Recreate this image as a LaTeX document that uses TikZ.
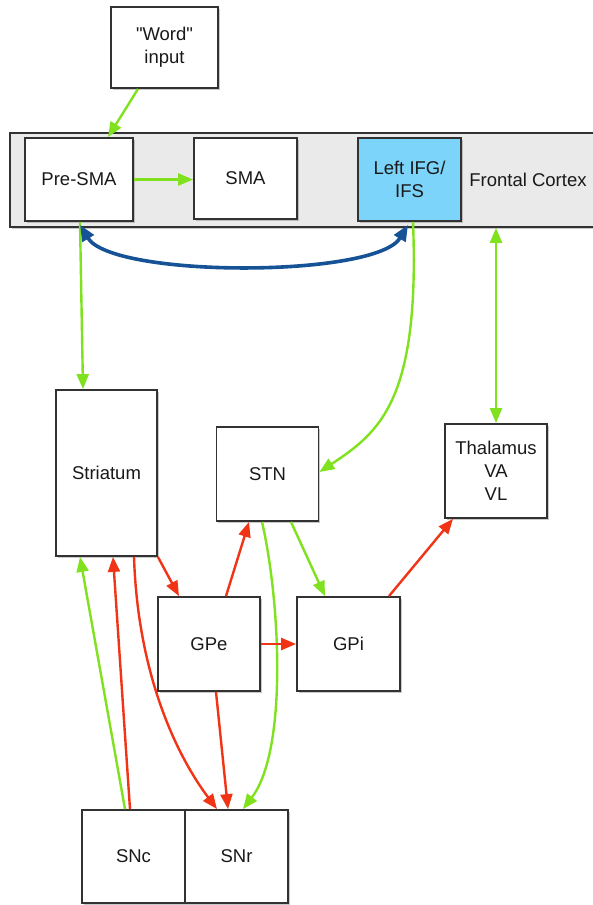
\documentclass[tikz,border=0pt]{standalone}
\usepackage{fontspec}
\setmainfont{Liberation Sans}[Ligatures=TeXOff]
\usetikzlibrary{arrows.meta,shadows,calc}
\definecolor{lime}{RGB}{128,226,30}
\definecolor{redar}{RGB}{242,52,22}
\definecolor{bluear}{RGB}{22,82,150}
\definecolor{ifgfill}{RGB}{124,212,250}
\definecolor{barfill}{RGB}{234,234,234}
\definecolor{boxline}{RGB}{50,50,50}
\definecolor{txt}{RGB}{25,25,25}
\begin{document}
\begin{tikzpicture}[x=1pt,y=-1pt,
  font=\fontsize{18.5}{23}\selectfont,
  box/.style={draw=boxline, line width=1.8pt, fill=white, inner sep=0pt, align=center, text=txt,
    drop shadow={shadow xshift=1.5pt, shadow yshift=-1.8pt, opacity=0.35, fill=black!60}},
  bw/.style={minimum width=102pt, minimum height=94pt},
  lbl/.style={inner sep=0pt, text=txt},
  garr/.style={draw=lime, line width=2.4pt, -{Triangle[length=15pt,width=12pt]}},
  gdbl/.style={draw=lime, line width=2.4pt, {Triangle[length=15pt,width=12pt]}-{Triangle[length=15pt,width=12pt]}},
  rarr/.style={draw=redar, line width=2.4pt, -{Triangle[length=15pt,width=12pt]}},
  bdbl/.style={draw=bluear, line width=3.6pt, {Triangle[length=16pt,width=13pt]}-{Triangle[length=16pt,width=13pt]}}
]
\useasboundingbox (0,0) rectangle (592,905);
\fill[white] (0,0) rectangle (592,905);

% cortex bar
\node[box, fill=barfill, minimum width=620pt, minimum height=94pt] (cortex) at (320,180) {};
\node[lbl] (fclabel) at (528,180) {Frontal Cortex};

% boxes
\node[box, minimum width=107pt, minimum height=81pt] (word) at (164.5,47.5) {"Word"\\input};
\node[box, minimum width=108pt, minimum height=83pt] (presma) at (79,179.5) {Pre-SMA};
\node[box, minimum width=103pt, minimum height=81pt] (sma) at (245.5,178.5) {SMA};
\node[box, fill=ifgfill, minimum width=103pt, minimum height=83pt] (ifg) at (409.5,179.5) {Left IFG/\\IFS};
\node[box, minimum width=101pt, minimum height=166pt] (str) at (106.5,473) {Striatum};
\node[box, bw] (stn) at (267.5,474) {STN};
\node[box, bw] (thal) at (496,471) {Thalamus\\VA\\VL};
\node[box, bw] (gpe) at (209,644) {GPe};
\node[box, minimum width=103pt, minimum height=94pt] (gpi) at (348.5,644) {GPi};
\node[box, minimum width=103pt, minimum height=93pt] (snc) at (133.5,856.5) {SNc};
\node[box, minimum width=103pt, minimum height=93pt] (snr) at (236.5,856.5) {SNr};

% green connectors
\draw[garr] ([xshift=-26.5pt]word.south) -- ([xshift=29pt]presma.north);
\draw[garr] (presma.east) -- (sma.west |- presma.east);
\draw[garr] ([xshift=1pt]presma.south) -- ([xshift=-23.5pt]str.north);
\draw[garr] ([xshift=3.5pt]ifg.south) .. controls (420,400) and (380,432) .. ([yshift=2pt]stn.east);
\draw[gdbl] (cortex.south -| thal.north) -- (thal.north);
\draw[garr] ([xshift=23.5pt]stn.south) -- ([xshift=-23.5pt]gpi.north);
\draw[garr] ([xshift=-5.5pt]stn.south) .. controls (280,600) and (288,750) .. ([xshift=6.5pt]snr.north);
\draw[garr] ([xshift=-8.5pt]snc.north) -- ([xshift=-26.5pt]str.south);

% red connectors
\draw[rarr] (str.south east) -- ([xshift=-30pt]gpe.north);
\draw[rarr] ([xshift=17pt]gpe.north) -- ([xshift=-18.5pt]stn.south);
\draw[rarr] ([xshift=40.5pt]gpi.north) -- ([xshift=-43pt]thal.south);
\draw[rarr] (gpe.east) -- (gpi.west);
\draw[rarr] ([xshift=7pt]gpe.south) -- ([xshift=-8.5pt]snr.north);
\draw[rarr] ([xshift=27.5pt]str.south) .. controls (138,680) and (180,760) .. ([xshift=-19.5pt]snr.north);
\draw[rarr] ([xshift=-3.5pt]snc.north) -- ([xshift=6.5pt]str.south);

% blue double arrow
\draw[bdbl] ([xshift=1pt,yshift=-3pt]presma.south) .. controls (112,278) and (376,278) .. ([xshift=-1.5pt,yshift=-3pt]ifg.south);
\end{tikzpicture}
\end{document}
